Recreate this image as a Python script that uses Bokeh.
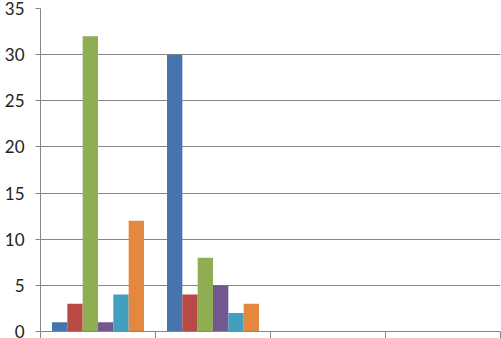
from bokeh.plotting import figure
from bokeh.models import ColumnDataSource, FixedTicker, Range1d
from bokeh.embed import file_html
from bokeh.resources import INLINE

# Data
categories = ["1", "2", "3", "4"]
series_a = [1, 30, 0, 0]
series_b = [3, 4, 0, 0]
series_c = [32, 8, 0, 0]
series_d = [1, 5, 0, 0]
series_e = [4, 2, 0, 0]
series_f = [12, 3, 0, 0]
y_ticks = [0, 5, 10, 15, 20, 25, 30, 35]

series = [series_a, series_b, series_c, series_d, series_e, series_f]
colors = ["#4674AD", "#B84945", "#8EAE51", "#71588F", "#42A0BE", "#E5883F"]

n = len(series)
gap = 1.5
w = 1.0 / (n + gap)

p = figure(width=501, height=338, output_backend="svg", toolbar_location=None,
           x_range=Range1d(0, len(categories)), y_range=Range1d(0, 35),
           min_border_left=40, min_border_right=1, min_border_top=8, min_border_bottom=0)
p.outline_line_color = None
p.background_fill_color = "white"
p.border_fill_color = "white"

for i, (vals, col) in enumerate(zip(series, colors)):
    xs = [k + gap * w / 2 + (i + 0.5) * w for k in range(len(categories))]
    src = ColumnDataSource(dict(x=xs, top=vals, cat=categories))
    p.vbar(x="x", top="top", bottom=0, width=w, source=src,
           fill_color=col, line_color=None)

gray = "#868686"
p.xgrid.grid_line_color = None
p.ygrid.grid_line_color = gray
p.ygrid.grid_line_width = 1
p.ygrid.ticker = FixedTicker(ticks=y_ticks)

p.yaxis.ticker = FixedTicker(ticks=y_ticks)
p.yaxis.axis_line_color = gray
p.yaxis.major_tick_line_color = gray
p.yaxis.major_tick_out = 5
p.yaxis.major_tick_in = 0
p.yaxis.minor_tick_line_color = None
p.yaxis.major_label_text_font = "Lato"
p.yaxis.major_label_text_font_size = "17px"
p.yaxis.major_label_text_color = "#222222"
p.yaxis.major_label_standoff = 11

x_ticks = list(range(len(categories) + 1))
p.xaxis.ticker = FixedTicker(ticks=x_ticks)
p.xaxis.major_label_overrides = {t: "" for t in x_ticks}
p.xaxis.axis_line_color = gray
p.xaxis.major_tick_line_color = gray
p.xaxis.major_tick_out = 7
p.xaxis.major_tick_in = 0
p.xaxis.minor_tick_line_color = None
p.xaxis.major_label_standoff = 0

open("out.html", "w").write(file_html(p, INLINE))
